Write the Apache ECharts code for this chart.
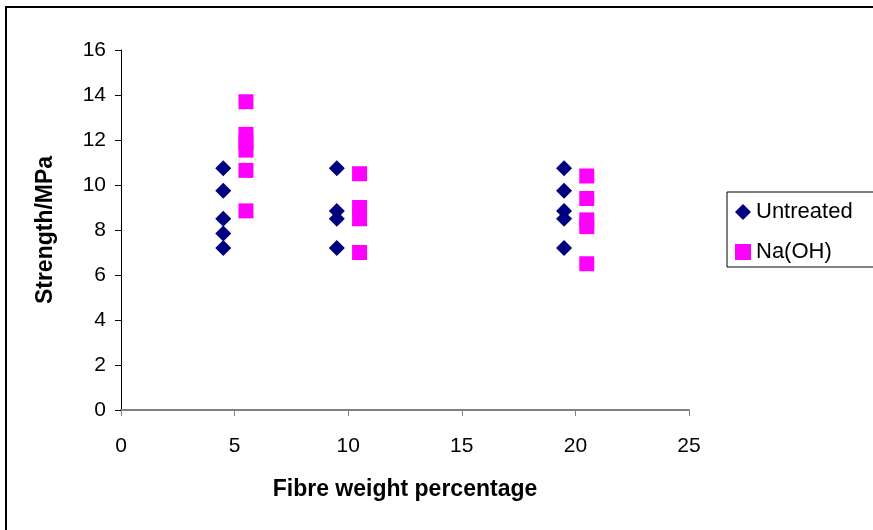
<!DOCTYPE html>
<html>
<head>
<meta charset="utf-8">
<script src="https://cdn.jsdelivr.net/npm/echarts@6/dist/echarts.min.js"></script>
<style>
html, body { margin: 0; padding: 0; background: #fff; }
#chart { width: 873px; height: 530px; }
</style>
</head>
<body>
<div id="chart"></div>
<script>
var xTicks = [0, 5, 10, 15, 20, 25];
var yTicks = [0, 2, 4, 6, 8, 10, 12, 14, 16];

// fibre weight % (offset a little each side in the original sheet)
var untreatedX = [4.5, 4.5, 4.5, 4.5, 4.5, 9.5, 9.5, 9.5, 9.5, 19.5, 19.5, 19.5, 19.5, 19.5];
var untreatedY = [10.75, 9.75, 8.5, 7.85, 7.2, 10.75, 8.85, 8.5, 7.2, 10.75, 9.75, 8.85, 8.5, 7.2];

var naohX = [5.5, 5.5, 5.5, 5.5, 5.5, 5.5, 10.5, 10.5, 10.5, 10.5, 20.5, 20.5, 20.5, 20.5, 20.5];
var naohY = [13.7, 12.25, 11.9, 11.55, 10.65, 8.85, 10.5, 9.0, 8.5, 7.0, 10.4, 9.4, 8.45, 8.15, 6.5];

function pairs(xs, ys) {
    var out = [];
    for (var i = 0; i < xs.length; i++) out.push([xs[i], ys[i]]);
    return out;
}

var myChart = echarts.init(document.getElementById('chart'));
myChart.setOption({
    animation: false,
    textStyle: { fontFamily: 'Liberation Sans, Arial, sans-serif' },
    graphic: [
        {
            type: 'rect',
            shape: { x: 6, y: 7, width: 900, height: 600 },
            style: { fill: 'none', stroke: '#000', lineWidth: 2 },
            silent: true
        }
    ],
    grid: { left: 121, right: 184, top: 50, bottom: 120 },
    legend: {
        orient: 'vertical',
        left: 727,
        top: 192,
        padding: [9, 40, 4, 8],
        itemGap: 18,
        itemWidth: 16,
        itemHeight: 16,
        borderColor: '#000',
        borderWidth: 1,
        textStyle: { fontSize: 22, color: '#000', fontFamily: 'Liberation Sans, Arial, sans-serif' },
        data: ['Untreated', 'Na(OH)']
    },
    xAxis: {
        type: 'value',
        min: 0,
        max: 25,
        interval: 5,
        name: 'Fibre weight percentage',
        nameLocation: 'middle',
        nameGap: 68,
        nameTextStyle: { fontSize: 23, fontWeight: 'bold', color: '#000' },
        axisLine: { show: true, onZero: false, lineStyle: { color: '#808080', width: 2 } },
        axisTick: { show: true, length: 6, lineStyle: { color: '#808080' } },
        axisLabel: { fontSize: 21, color: '#000', margin: 26 },
        splitLine: { show: false }
    },
    yAxis: {
        type: 'value',
        min: 0,
        max: 16,
        interval: 2,
        name: 'Strength/MPa',
        nameLocation: 'middle',
        nameGap: 64,
        nameTextStyle: { fontSize: 23, fontWeight: 'bold', color: '#000' },
        axisLine: { show: true, lineStyle: { color: '#000', width: 1 } },
        axisTick: { show: true, length: 6, lineStyle: { color: '#000' } },
        axisLabel: { fontSize: 21, color: '#000', margin: 15 },
        splitLine: { show: false }
    },
    series: [
        {
            name: 'Untreated',
            type: 'scatter',
            symbol: 'diamond',
            symbolSize: 16,
            itemStyle: { color: '#000080', opacity: 1 },
            data: pairs(untreatedX, untreatedY)
        },
        {
            name: 'Na(OH)',
            type: 'scatter',
            symbol: 'rect',
            symbolSize: 15,
            itemStyle: { color: '#FF00FF', opacity: 1 },
            data: pairs(naohX, naohY)
        }
    ]
});
</script>
</body>
</html>
